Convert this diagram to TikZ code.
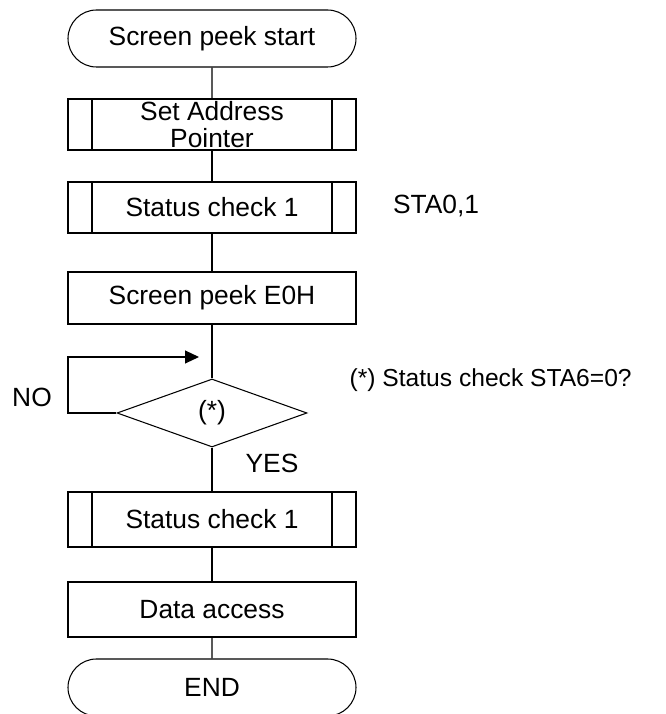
\documentclass[tikz,border=0pt]{standalone}
\usepackage{fontspec}
\setmainfont{Liberation Sans}
\usetikzlibrary{arrows.meta,shapes.geometric,shapes.misc}
\begin{document}
\begin{tikzpicture}[line width=0.6pt,
        every node/.style={font=\fontsize{15}{17}\selectfont},
        terminal/.style={draw,rounded rectangle,minimum width=5.76cm,minimum height=1.14cm,inner sep=0pt},
        process/.style={draw,rectangle,minimum width=5.76cm,minimum height=1.04cm,inner sep=0pt,align=center},
        subproc/.style={process,path picture={
            \draw ([xshift=0.48cm]path picture bounding box.north west) -- ([xshift=0.48cm]path picture bounding box.south west);
            \draw ([xshift=-0.48cm]path picture bounding box.north east) -- ([xshift=-0.48cm]path picture bounding box.south east);}},
        decision/.style={draw,diamond,aspect=2.8,minimum width=3.8cm,minimum height=1.36cm,inner sep=0pt}]
    \useasboundingbox (0,0) rectangle (13.32,14.28);
    % main column
    \node[terminal] (start) at (4.24,13.51) {Screen peek start};
    \node[subproc,minimum height=1.02cm,font=\fontsize{15}{15.5}\selectfont] (addr) at (4.24,11.79) {Set Address\\Pointer};
    \node[subproc,minimum height=1.02cm] (stat1) at (4.24,10.13) {Status check 1};
    \node[process] (peek) at (4.24,8.32) {Screen peek E0H};
    \node[decision] (test) at (4.24,6.02) {(*)};
    \node[subproc,minimum height=1.1cm] (stat2) at (4.24,3.89) {Status check 1};
    \node[process,minimum height=1.1cm] (data) at (4.24,2.09) {Data access};
    \node[terminal] (end) at (4.24,0.53) {END};
    \foreach \a/\b in {start/addr,addr/stat1,stat1/peek,peek/test,test/stat2,stat2/data,data/end}
        \draw (\a) -- (\b);
    % loop back
    \coordinate (loopin) at (3.98,7.14);
    \draw[-{Triangle[length=0.28cm,width=0.26cm]}] (test.west) -| (1.36,7.14) -- (loopin);
    \node (no) at (0.64,6.34) {NO};
    \node (yes) at (5.44,5.02) {YES};
    % notes
    \node (sta) at (8.72,10.17) {STA0,1};
    \node[anchor=east,font=\fontsize{14}{16}\selectfont] (note) at (12.76,6.68) {(*) Status check STA6=0?};
\end{tikzpicture}
\end{document}
